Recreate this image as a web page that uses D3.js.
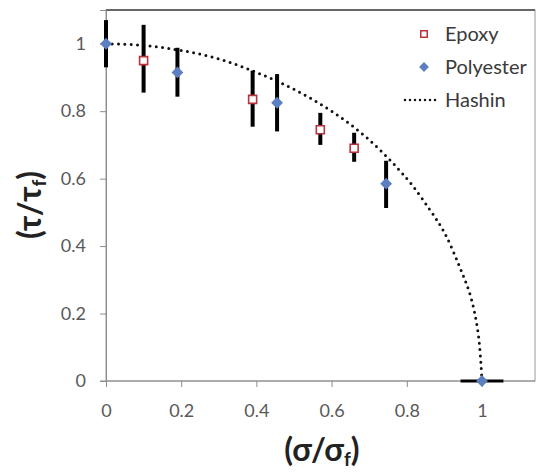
<!DOCTYPE html>
<html>
<head>
<meta charset="utf-8">
<script src="https://cdn.jsdelivr.net/npm/d3@7"></script>
<style>
  body { margin: 0; background: #fff; }
  svg { display: block; font-family: Lato, "Open Sans", sans-serif; }
</style>
</head>
<body>
<div id="chart"></div>
<script>
// values
var epoxySigma = [0.1, 0.39, 0.57, 0.66];
var epoxyTau = [0.95, 0.835, 0.745, 0.69];
var epoxyTauLow = [0.855, 0.754, 0.70, 0.65];
var epoxyTauHigh = [1.056, 0.92, 0.795, 0.736];
var epoxySigmaErr = [0, 0, 0, 0];

var polySigma = [0, 0.19, 0.455, 0.745, 1];
var polyTau = [1, 0.915, 0.825, 0.585, 0];
var polyTauLow = [0.93, 0.843, 0.74, 0.513, 0];
var polyTauHigh = [1.07, 0.988, 0.91, 0.653, 0];
var polySigmaErr = [0, 0, 0, 0, 0.057];

var hashinSigma = [0, 0.1, 0.2, 0.3, 0.4, 0.5, 0.6, 0.7, 0.8, 0.86, 0.9, 0.94, 0.97, 0.99, 1];
var hashinTau = [1, 0.995, 0.98, 0.955, 0.915, 0.865, 0.8, 0.715, 0.6, 0.51, 0.44, 0.34, 0.25, 0.14, 0];

var xTicks = [0, 0.2, 0.4, 0.6, 0.8, 1];
var yTicks = [0, 0.2, 0.4, 0.6, 0.8, 1];
var legendLabels = ['Epoxy', 'Polyester', 'Hashin'];

(function () {
  var width = 538, height = 472;
  var plotLeft = 106, plotRight = 535, plotTop = 10, plotBottom = 381;

  var svg = d3.select('#chart').append('svg')
    .attr('width', width)
    .attr('height', height);

  var x = d3.scaleLinear().domain([0, 1.141]).range([plotLeft, plotRight]);
  var y = d3.scaleLinear().domain([0, 1.1]).range([plotBottom, plotTop]);

  // plot frame
  svg.append('rect')
    .attr('x', plotLeft).attr('y', plotTop)
    .attr('width', plotRight - plotLeft).attr('height', plotBottom - plotTop)
    .attr('fill', 'none').attr('stroke', '#9a9a9a').attr('stroke-width', 1);
  svg.append('line')
    .attr('x1', plotLeft).attr('x2', plotRight).attr('y1', plotTop).attr('y2', plotTop)
    .attr('stroke', '#444').attr('stroke-width', 1.5);

  var fmt = function (d) { return d3.format('')(d); };
  var xAxis = svg.append('g')
    .attr('transform', 'translate(0,' + plotBottom + ')')
    .call(d3.axisBottom(x).tickValues(xTicks).tickSize(6).tickPadding(17).tickFormat(fmt));
  var yAxis = svg.append('g')
    .attr('transform', 'translate(' + plotLeft + ',0)')
    .call(d3.axisLeft(y).tickValues(yTicks).tickSize(6).tickPadding(14).tickFormat(fmt));

  [xAxis, yAxis].forEach(function (g) {
    g.select('.domain').attr('stroke', '#8c8c8c');
    g.selectAll('.tick line').attr('stroke', '#8c8c8c');
    g.selectAll('.tick text')
      .attr('fill', '#595959')
      .style('font-size', '18px')
      .style('font-family', 'Lato, "Open Sans", sans-serif');
  });
  xAxis.select('.domain').attr('d', 'M' + (plotLeft - 6) + ',0H' + plotRight);

  // Hashin criterion
  var line = d3.line()
    .x(function (d, i) { return x(hashinSigma[i]); })
    .y(function (d) { return y(d); })
    .curve(d3.curveCatmullRom.alpha(0.5));

  svg.append('path')
    .datum(hashinTau)
    .attr('d', line)
    .attr('fill', 'none')
    .attr('stroke', '#111')
    .attr('stroke-width', 3)
    .attr('stroke-linecap', 'round')
    .attr('stroke-dasharray', '0,6.3');

  function errorBars(sig, tau, lo, hi, sErr) {
    var g = svg.append('g');
    g.selectAll('line.v')
      .data(sig)
      .enter().append('line')
      .attr('x1', function (d) { return x(d); })
      .attr('x2', function (d) { return x(d); })
      .attr('y1', function (d, i) { return y(lo[i]); })
      .attr('y2', function (d, i) { return y(hi[i]); })
      .attr('stroke', '#000').attr('stroke-width', 4);
    g.selectAll('line.h')
      .data(sig)
      .enter().append('line')
      .attr('x1', function (d, i) { return x(d - sErr[i]); })
      .attr('x2', function (d, i) { return x(d + sErr[i]); })
      .attr('y1', function (d, i) { return y(tau[i]); })
      .attr('y2', function (d, i) { return y(tau[i]); })
      .attr('stroke', '#000').attr('stroke-width', 3);
  }

  errorBars(epoxySigma, epoxyTau, epoxyTauLow, epoxyTauHigh, epoxySigmaErr);
  errorBars(polySigma, polyTau, polyTauLow, polyTauHigh, polySigmaErr);

  var squareSym = d3.symbol().type(d3.symbolSquare).size(64);
  var diamondSym = d3.symbol().type(d3.symbolSquare).size(70);

  svg.append('g').selectAll('path')
    .data(epoxySigma)
    .enter().append('path')
    .attr('d', squareSym)
    .attr('transform', function (d, i) { return 'translate(' + x(d) + ',' + y(epoxyTau[i]) + ')'; })
    .attr('fill', '#fff')
    .attr('stroke', '#b8333a')
    .attr('stroke-width', 1.6);

  svg.append('g').selectAll('path')
    .data(polySigma)
    .enter().append('path')
    .attr('d', diamondSym)
    .attr('transform', function (d, i) {
      return 'translate(' + x(d) + ',' + y(polyTau[i]) + ')rotate(45)';
    })
    .attr('fill', '#5b7fc0');

  // legend
  var rowGap = 33;
  var legend = svg.append('g').attr('transform', 'translate(424,34)');
  legend.append('path')
    .attr('d', d3.symbol().type(d3.symbolSquare).size(42))
    .attr('fill', '#fff').attr('stroke', '#b8333a').attr('stroke-width', 1.5);
  legend.append('path')
    .attr('d', d3.symbol().type(d3.symbolSquare).size(48))
    .attr('transform', 'translate(0,' + rowGap + ')rotate(45)')
    .attr('fill', '#5b7fc0');
  legend.append('line')
    .attr('x1', -19).attr('x2', 16)
    .attr('y1', rowGap * 2).attr('y2', rowGap * 2)
    .attr('stroke', '#111').attr('stroke-width', 2.5)
    .attr('stroke-linecap', 'round').attr('stroke-dasharray', '0,5');
  legend.selectAll('text')
    .data(legendLabels)
    .enter().append('text')
    .attr('x', 21)
    .attr('y', function (d, i) { return i * rowGap; })
    .attr('dy', '0.35em')
    .attr('fill', '#3a3a3a')
    .style('font-size', '20px')
    .text(function (d) { return d; });

  // axis titles
  var xTitle = svg.append('text')
    .attr('x', 322).attr('y', 461)
    .attr('text-anchor', 'middle')
    .style('font-size', '32px').style('font-weight', 'bold')
    .attr('fill', '#222');
  xTitle.append('tspan').text('(σ/σ');
  xTitle.append('tspan').attr('dy', 5).style('font-size', '19px').text('f');
  xTitle.append('tspan').attr('dy', -5).text(')');

  var yTitle = svg.append('text')
    .attr('transform', 'translate(41,205)rotate(-90)')
    .attr('text-anchor', 'middle')
    .style('font-size', '32px').style('font-weight', 'bold')
    .attr('fill', '#222');
  yTitle.append('tspan').text('(τ/τ');
  yTitle.append('tspan').attr('dy', 5).style('font-size', '19px').text('f');
  yTitle.append('tspan').attr('dy', -5).text(')');
})();
</script>
</body>
</html>
